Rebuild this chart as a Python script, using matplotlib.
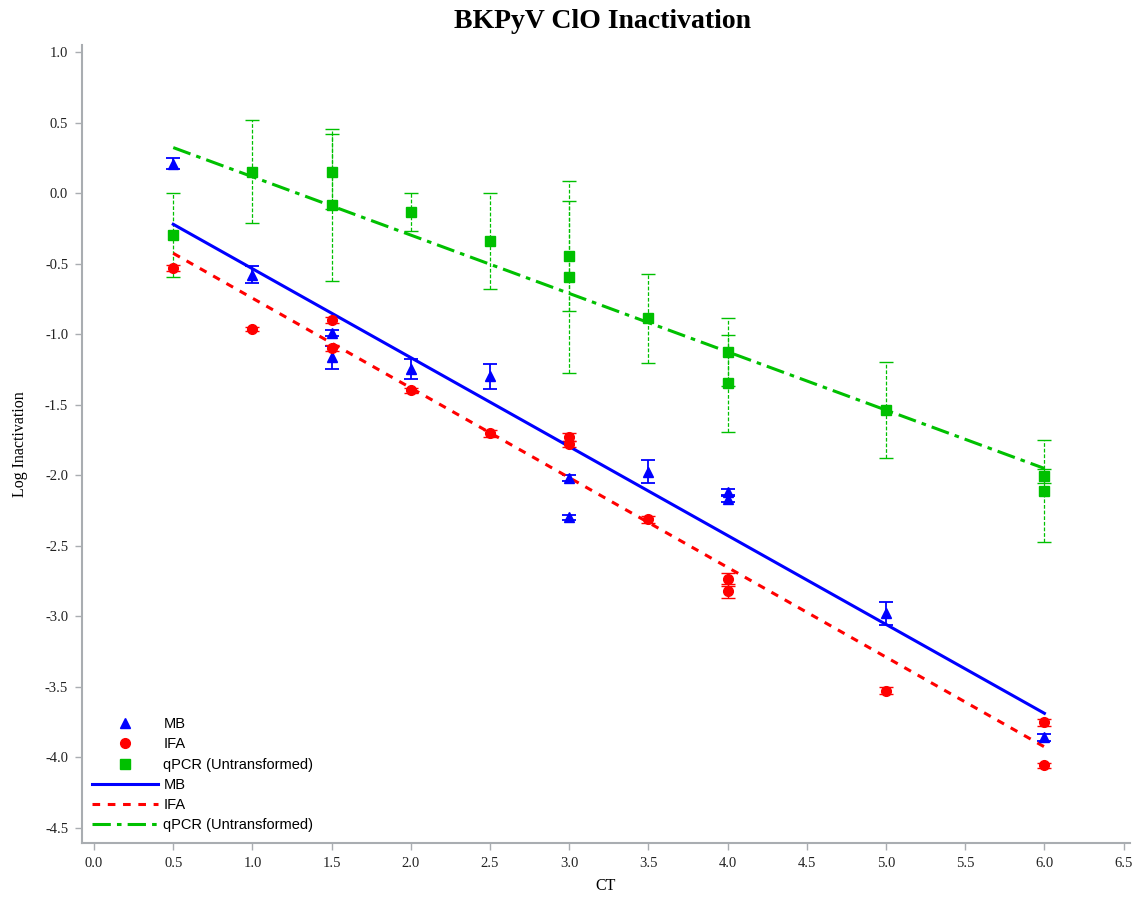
import matplotlib
matplotlib.use("Agg")
import matplotlib.pyplot as plt
from matplotlib.lines import Line2D

# CT values and log inactivation
mb_ct = [0.5, 1.0, 1.5, 1.5, 2.0, 2.5, 3.0, 3.0, 3.5, 4.0, 4.0, 5.0, 6.0]
mb_y = [0.21, -0.58, -0.99, -1.165, -1.25, -1.30, -2.02, -2.30, -1.976, -2.12, -2.17, -2.98, -3.86]
mb_err = [0.04, 0.06, 0.02, 0.08, 0.072, 0.09, 0.02, 0.02, 0.083, 0.02, 0.02, 0.083, 0.025]

ifa_ct = [0.5, 1.0, 1.5, 1.5, 2.0, 2.5, 3.0, 3.0, 3.5, 4.0, 4.0, 5.0, 6.0, 6.0]
ifa_y = [-0.533, -0.966, -0.90, -1.10, -1.40, -1.704, -1.73, -1.78, -2.315, -2.74, -2.82, -3.53, -3.755, -4.06]
ifa_err = [0.02, 0.015, 0.02, 0.02, 0.02, 0.025, 0.03, 0.02, 0.025, 0.045, 0.05, 0.025, 0.025, 0.02]

qpcr_ct = [0.5, 1.0, 1.5, 1.5, 2.0, 2.5, 3.0, 3.0, 3.5, 4.0, 4.0, 5.0, 6.0, 6.0]
qpcr_y = [-0.297, 0.153, 0.153, -0.084, -0.136, -0.34, -0.446, -0.595, -0.888, -1.125, -1.349, -1.539, -2.007, -2.113]
qpcr_err = [0.295, 0.365, 0.265, 0.54, 0.135, 0.34, 0.39, 0.68, 0.317, 0.24, 0.345, 0.343, 0.05, 0.36]

# fitted regression lines (end points)
fit_ct = [0.5, 6.0]
mb_fit = [-0.221, -3.69]
ifa_fit = [-0.427, -3.928]
qpcr_fit = [0.323, -1.953]

blue = "#0000ff"
red = "#ff0000"
green = "#00c000"
gray = "#a9adb1"

fig = plt.figure(figsize=(11.44, 9.02), dpi=100)
ax = fig.add_axes([0.0717, 0.0654, 0.916, 0.8846])

# error bars
ax.errorbar(mb_ct, mb_y, yerr=mb_err, fmt="none", ecolor=blue, elinewidth=1.3,
            capsize=5, capthick=1.3, zorder=3)
ax.errorbar(ifa_ct, ifa_y, yerr=ifa_err, fmt="none", ecolor=red, elinewidth=1.0,
            capsize=5, capthick=1.0, zorder=3)
eb = ax.errorbar(qpcr_ct, qpcr_y, yerr=qpcr_err, fmt="none", ecolor=green, elinewidth=0.9,
                 capsize=5, capthick=1.0, zorder=3)
eb[2][0].set_linestyle((0, (3, 1.5)))

# regression lines
ax.plot(fit_ct, mb_fit, color=blue, lw=2.2, ls="-", zorder=4)
ax.plot(fit_ct, ifa_fit, color=red, lw=2.2, ls=(0, (2.5, 2.5)), zorder=4)
ax.plot(fit_ct, qpcr_fit, color=green, lw=2.2, ls=(0, (6, 2, 1.5, 2)), zorder=4)

# points
ax.plot(mb_ct, mb_y, ls="none", marker="^", ms=7.5, color=blue, mec=blue, zorder=5)
ax.plot(ifa_ct, ifa_y, ls="none", marker="o", ms=7, color=red, mec=red, zorder=5)
ax.plot(qpcr_ct, qpcr_y, ls="none", marker="s", ms=7.5, color=green, mec=green, zorder=5)

ax.set_xlim(-0.076, 6.54)
ax.set_ylim(-4.61, 1.05)
ax.set_xticks([i * 0.5 for i in range(14)])
ax.set_yticks([1.0 - i * 0.5 for i in range(12)])
ax.xaxis.set_major_formatter(matplotlib.ticker.FormatStrFormatter("%.1f"))
ax.yaxis.set_major_formatter(matplotlib.ticker.FormatStrFormatter("%.1f"))

for side in ["top", "right"]:
    ax.spines[side].set_visible(False)
for side in ["left", "bottom"]:
    ax.spines[side].set_color(gray)
    ax.spines[side].set_linewidth(1.5)

ax.tick_params(axis="both", direction="out", length=5, width=1.0, color=gray,
               labelsize=10.5, labelcolor="#222222")
ax.tick_params(axis="x", pad=5)
ax.tick_params(axis="y", pad=5)
for lab in ax.get_xticklabels() + ax.get_yticklabels():
    lab.set_fontfamily("Liberation Serif")

ax.set_xlabel("CT", fontfamily="Liberation Serif", fontsize=11.5, labelpad=6)
ax.set_ylabel("Log Inactivation", fontfamily="Liberation Serif", fontsize=11.5, labelpad=12)
fig.text(0.527, 0.976, "BKPyV ClO Inactivation", ha="center", va="center",
         fontfamily="Liberation Serif", fontweight="bold", fontsize=20)

handles = [
    Line2D([], [], ls="none", marker="^", ms=7.5, color=blue),
    Line2D([], [], ls="none", marker="o", ms=7, color=red),
    Line2D([], [], ls="none", marker="s", ms=7.5, color=green),
    Line2D([], [], color=blue, lw=2.2, ls="-"),
    Line2D([], [], color=red, lw=2.2, ls=(0, (2.5, 2.5))),
    Line2D([], [], color=green, lw=2.2, ls=(0, (6, 2, 1.5, 2))),
]
labels = ["MB", "IFA", "qPCR (Untransformed)", "MB", "IFA", "qPCR (Untransformed)"]
leg = ax.legend(handles, labels, loc="lower left", bbox_to_anchor=(92 / 1144, 70 / 902),
                bbox_transform=fig.transFigure, frameon=False, borderpad=0,
                borderaxespad=0, handlelength=4.5, handletextpad=0.4,
                labelspacing=0.42, prop={"family": "Liberation Sans", "size": 10.5})

fig.savefig("out.png", dpi=100)
